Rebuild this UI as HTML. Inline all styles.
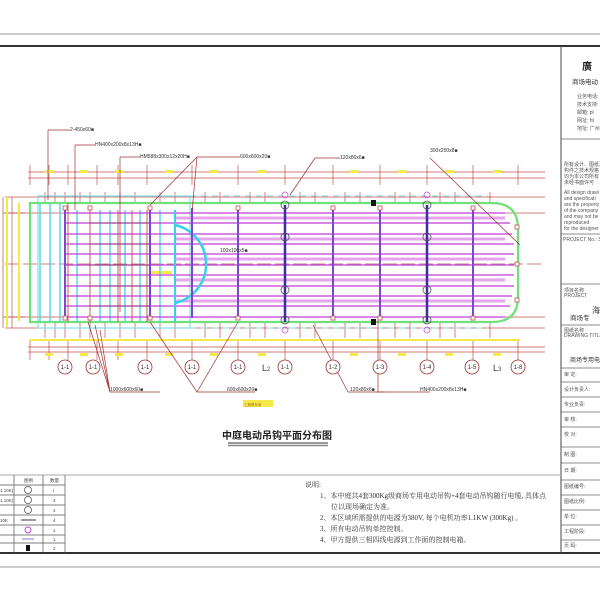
<!DOCTYPE html>
<html><head><meta charset="utf-8"><style>
html,body{margin:0;padding:0;background:#fff;}
svg{display:block;font-family:"Liberation Sans","Noto Sans CJK SC",sans-serif;}
</style></head><body>
<svg width="600" height="600" viewBox="0 0 600 600" xmlns="http://www.w3.org/2000/svg">
<rect width="600" height="600" fill="#fff"/>
<!-- frame -->
<line x1="0" y1="34" x2="600" y2="34" stroke="#999" stroke-width="1"/>
<line x1="0" y1="46" x2="600" y2="46" stroke="#333" stroke-width="2"/>
<line x1="0" y1="553" x2="600" y2="553" stroke="#333" stroke-width="2"/>
<line x1="0" y1="567" x2="600" y2="567" stroke="#999" stroke-width="1"/>
<line x1="561" y1="46" x2="561" y2="553" stroke="#444" stroke-width="1"/>
<line x1="0" y1="475" x2="561" y2="475" stroke="#aaa" stroke-width="1"/>

<!-- title block -->
<g stroke="#666" stroke-width="0.8">
<line x1="561" y1="139" x2="600" y2="139"/>
<line x1="561" y1="234" x2="600" y2="234"/>
<line x1="561" y1="284" x2="600" y2="284"/>
<line x1="561" y1="325" x2="600" y2="325"/>
<line x1="561" y1="368" x2="600" y2="368"/>
<line x1="561" y1="382" x2="600" y2="382"/>
<line x1="561" y1="397" x2="600" y2="397"/>
<line x1="561" y1="412" x2="600" y2="412"/>
<line x1="561" y1="427" x2="600" y2="427"/>
<line x1="561" y1="447" x2="600" y2="447"/>
<line x1="561" y1="463" x2="600" y2="463"/>
<line x1="561" y1="480" x2="600" y2="480"/>
<line x1="561" y1="495" x2="600" y2="495"/>
<line x1="561" y1="510" x2="600" y2="510"/>
<line x1="561" y1="525" x2="600" y2="525"/>
<line x1="561" y1="540" x2="600" y2="540"/>
</g>
<g font-size="5" fill="#555">
<text x="582" y="70" font-size="10" font-weight="bold" fill="#222">廣</text>
<text x="572" y="84" font-size="6.5" fill="#333">商场电动</text>
<text x="577" y="98">业务电话:</text><text x="577" y="106">技术支持:</text><text x="577" y="114">邮箱: pl</text><text x="577" y="122">网址: ht</text><text x="577" y="130">地址: 广州</text>
<text x="564" y="166">所有设计、图纸及</text><text x="564" y="172">构件之技术规格</text><text x="564" y="178">均为本公司所有</text><text x="564" y="184">未经书面许可</text>
<text x="564" y="194">All design drawi</text><text x="564" y="200">and specificati</text><text x="564" y="206">are the property</text><text x="564" y="212">of the company</text><text x="564" y="218">and may not be</text><text x="564" y="224">reproduced</text><text x="564" y="230">for the designer</text>
<text x="563" y="241">PROJECT No.: Sun</text>
<text x="564" y="292">项目名称</text><text x="564" y="297">PROJECT</text>
<text x="592" y="313" font-size="8" fill="#333">海</text>
<text x="570" y="320" font-size="6.5" fill="#333">商场专</text>
<text x="564" y="332">图纸名称</text><text x="564" y="337">DRAWING TITLE</text>
<text x="570" y="362" font-size="6" fill="#333">商场专用电</text>
<text x="564" y="376">审 定:</text><text x="564" y="391">设计负责人:</text><text x="564" y="406">专业负责:</text><text x="564" y="421">审 核:</text><text x="564" y="436">校 对:</text><text x="564" y="456">制 图:</text><text x="564" y="472">日 期:</text><text x="564" y="488">图纸编号:</text><text x="564" y="503">图纸比例:</text><text x="564" y="518">单 位:</text><text x="564" y="533">工程阶段:</text><text x="564" y="547">页 码:</text>
</g>

<!-- dimension lines red -->
<g stroke="#c0504d" stroke-width="0.7" fill="none">
<line x1="28" y1="172" x2="545" y2="172"/>
<line x1="28" y1="178" x2="545" y2="178"/>
<line x1="5" y1="197" x2="545" y2="197"/>
<line x1="5" y1="213" x2="545" y2="213"/>
<line x1="5" y1="264" x2="545" y2="264" stroke-dasharray="14 4"/>
<line x1="5" y1="317" x2="545" y2="317"/>
<line x1="5" y1="328" x2="545" y2="328"/>
<line x1="28" y1="347" x2="545" y2="347"/>
<line x1="28" y1="352" x2="545" y2="352"/>
<!-- vertical ticks top/bottom -->
<path d="M30 165V185M49 165V185M68 165V185M97 165V185M118 165V185M147 165V185M192 165V185M238 165V185M285 165V185M333 165V185M380 165V185M427 165V185M473 165V185M518 165V185"/>
<path d="M30 340V360M49 340V360M68 340V360M97 340V360M118 340V360M147 340V360M192 340V360M238 340V360M285 340V360M333 340V360M380 340V360M427 340V360M473 340V360M518 340V360"/>
<path d="M45 192V202M55 192V202M65 192V202M80 192V202M90 192V202M105 192V202M120 192V202M135 192V202M160 192V202M175 192V202M205 192V202M220 192V202M250 192V202M265 192V202M300 192V202M315 192V202M345 192V202M360 192V202M395 192V202M410 192V202M440 192V202M455 192V202M490 192V202"/>
<path d="M45 323V338M55 323V338M65 323V338M80 323V338M90 323V338M105 323V338M120 323V338M135 323V338M160 323V338M175 323V338M205 323V338M220 323V338M250 323V338M265 323V338M300 323V338M315 323V338M345 323V338M360 323V338M395 323V338M410 323V338M440 323V338M455 323V338M490 323V338"/>
<!-- left side dims -->
<path d="M3 197V328M12 197V328M3 213H25M3 317H25"/>
</g>
<!-- yellow dim marks -->
<g fill="#f5e94a">
<rect x="45" y="170" width="8" height="3"/><rect x="80" y="170" width="8" height="3"/><rect x="115" y="170" width="8" height="3"/><rect x="165" y="170" width="8" height="3"/><rect x="210" y="170" width="8" height="3"/><rect x="258" y="170" width="8" height="3"/><rect x="350" y="170" width="8" height="3"/><rect x="398" y="170" width="8" height="3"/><rect x="445" y="170" width="8" height="3"/><rect x="493" y="170" width="8" height="3"/>
<rect x="30" y="339" width="490" height="2"/>
<rect x="45" y="353" width="8" height="3"/><rect x="80" y="353" width="8" height="3"/><rect x="115" y="353" width="8" height="3"/><rect x="165" y="353" width="8" height="3"/><rect x="210" y="353" width="8" height="3"/><rect x="258" y="353" width="8" height="3"/><rect x="350" y="353" width="8" height="3"/><rect x="398" y="353" width="8" height="3"/><rect x="445" y="353" width="8" height="3"/><rect x="493" y="353" width="8" height="3"/>
<rect x="6" y="197" width="2" height="130"/><rect x="18" y="203" width="2" height="118"/>
<rect x="150" y="271" width="22" height="3"/>
<rect x="243" y="400" width="30" height="7"/>
</g>

<!-- cyan dashed outer -->
<rect x="38" y="196" width="152" height="132" fill="none" stroke="#7fdfe8" stroke-width="1.2"/>
<path d="M190 196H488M190 328H488" stroke="#7fdfe8" stroke-width="1" stroke-dasharray="6 5"/>
<!-- green rounded -->
<path d="M30 203H492Q518 203 518 229V297Q518 322 492 322H30Z" fill="none" stroke="#6fe07a" stroke-width="2.2"/>
<!-- cyan verticals left -->
<g stroke="#4fd6e6" stroke-width="1.4">
<path d="M40 203V322M50 203V322M60 203V322M77 210V322M100 210V322M110 210V322M125 210V322M140 210V322M160 210V322M175 210V322"/>
</g>
<g stroke="#c0504d" stroke-width="0.9">
<path d="M68 203V322M90 210V322M118 210V322M132 210V322M147 210V322"/>
</g>
<!-- horizontal magenta/purple -->
<g stroke="#e6a3ee" stroke-width="3">
<path d="M175 218H505M175 239H505M175 259H505M175 280H505M175 301H505"/>
</g>
<g stroke="#c03cd6" stroke-width="1.2">
<path d="M65 213H505M65 223H510M65 234H512M65 244H514M65 254H514M65 265H514M65 275H514M65 286H514M65 296H512M65 306H510M65 317H505"/>
</g>
<g stroke="#8a3a6a" stroke-width="0.8">
<path d="M90 223H150M90 244H150M90 265H150M90 286H150M90 306H150"/>
</g>
<!-- cyan semicircle -->
<path d="M175 225A40 40 0 0 1 175 303" fill="none" stroke="#39d0e8" stroke-width="2.5"/>
<line x1="175" y1="210" x2="175" y2="322" stroke="#39d0e8" stroke-width="2"/>
<!-- purple verticals -->
<g stroke="#7b49d1" stroke-width="2">
<path d="M65 208V318M150 208V318M192 208V318M238 208V318M333 208V318M380 208V318M473 208V318"/>
</g>
<g stroke="#3b2fa0" stroke-width="2.5">
<path d="M285 205V322M427 205V322"/>
</g>
<!-- red squares at beam ends -->
<g fill="#fff" stroke="#c0504d" stroke-width="0.8">
<rect x="63" y="206" width="4" height="4"/><rect x="88" y="206" width="4" height="4"/><rect x="148" y="206" width="4" height="4"/><rect x="236" y="206" width="4" height="4"/><rect x="331" y="206" width="4" height="4"/><rect x="378" y="206" width="4" height="4"/><rect x="471" y="206" width="4" height="4"/>
<rect x="63" y="316" width="4" height="4"/><rect x="88" y="316" width="4" height="4"/><rect x="148" y="316" width="4" height="4"/><rect x="236" y="316" width="4" height="4"/><rect x="331" y="316" width="4" height="4"/><rect x="378" y="316" width="4" height="4"/><rect x="471" y="316" width="4" height="4"/>
<rect x="515" y="225" width="4" height="4"/><rect x="515" y="262" width="4" height="4"/><rect x="515" y="298" width="4" height="4"/>
</g>
<!-- hook symbols -->
<g fill="none" stroke="#555" stroke-width="0.8">
<circle cx="285" cy="205" r="4"/><circle cx="285" cy="237" r="4"/><circle cx="285" cy="290" r="4"/><circle cx="285" cy="320" r="4"/>
<circle cx="427" cy="205" r="4"/><circle cx="427" cy="237" r="4"/><circle cx="427" cy="290" r="4"/><circle cx="427" cy="320" r="4"/>
</g>
<g fill="none" stroke="#d04fe0" stroke-width="0.8">
<circle cx="285" cy="195" r="3"/><circle cx="285" cy="330" r="3"/><circle cx="427" cy="195" r="3"/><circle cx="427" cy="330" r="3"/>
</g>
<rect x="371" y="200" width="5" height="6" fill="#111"/><rect x="371" y="319" width="5" height="6" fill="#111"/>

<!-- leader lines -->
<g stroke="#a03030" stroke-width="0.7" fill="none">
<path d="M48 130H70M48 130V200"/>
<path d="M75 145H95M75 145V210"/>
<path d="M120 157H140M120 157V312"/>
<path d="M197 157H240M197 157L150 205M197 157L192 212"/>
<path d="M315 158H340M315 158L290 195"/>
<path d="M430 158L520 245"/>
<path d="M88 322L110 392H160M95 325L110 392M100 330L110 392"/>
<path d="M150 322L197 392H255M238 322L197 392"/>
<path d="M313 325L348 392H385"/>
<path d="M378 320V392H430"/>
</g>
<g font-size="5" fill="#333">
<text x="70" y="131">2-450x60■</text>
<text x="95" y="146">HN400x200x8x13H■</text>
<text x="140" y="158">HM588x300x12x20H■</text>
<text x="240" y="158">600x600x20■</text>
<text x="340" y="159">120x80x6■</text>
<text x="430" y="152">300x200x8■</text>
<text x="220" y="252">100x100x5■</text>
<text x="110" y="391">1000x600x60■</text>
<text x="227" y="391">600x600x20■</text>
<text x="350" y="391">120x80x6■</text>
<text x="420" y="391">HN400x200x8x13H■</text>
<text x="244" y="406" font-size="3.5" fill="#a07020">工程联系单</text>
</g>
<!-- axis circles -->
<g fill="#fff" stroke="#a03030" stroke-width="0.8">
<circle cx="65" cy="367" r="7"/><circle cx="93" cy="367" r="7"/><circle cx="145" cy="367" r="7"/><circle cx="192" cy="367" r="7"/><circle cx="238" cy="367" r="7"/><circle cx="285" cy="367" r="7"/><circle cx="333" cy="367" r="7"/><circle cx="380" cy="367" r="7"/><circle cx="427" cy="367" r="7"/><circle cx="472" cy="367" r="7"/><circle cx="518" cy="367" r="7"/>
</g>
<g font-size="6" fill="#333" text-anchor="middle">
<text x="65" y="369">1-1</text><text x="93" y="369">1-1</text><text x="145" y="369">1-1</text><text x="192" y="369">1-1</text><text x="238" y="369">1-1</text><text x="285" y="369">1-1</text><text x="333" y="369">1-2</text><text x="380" y="369">1-3</text><text x="427" y="369">1-4</text><text x="472" y="369">1-5</text><text x="518" y="369">1-8</text>
</g>
<g font-size="9" fill="#444"><text x="262" y="371">L<tspan font-size="6">2</tspan></text><text x="493" y="371">L<tspan font-size="6">3</tspan></text></g>

<!-- drawing title -->
<text x="277" y="439" font-size="10" font-weight="bold" text-anchor="middle" fill="#222">中庭电动吊钩平面分布图</text>
<line x1="228" y1="443" x2="328" y2="443" stroke="#333" stroke-width="1"/>
<line x1="228" y1="445.5" x2="328" y2="445.5" stroke="#888" stroke-width="1.5"/>

<!-- legend table -->
<g stroke="#555" stroke-width="0.7">
<path d="M14 475V553M43 475V553M65 475V553"/>
<path d="M0 485H65M0 495H65M0 505H65M0 515H65M0 525H65M0 535H65M0 543H65"/>
</g>
<g font-size="4.5" fill="#444">
<text x="24" y="482">图例</text><text x="50" y="482">数量</text>
<text x="0" y="492">1.10K)</text><text x="0" y="502">1.10K)</text><text x="0" y="522">10K</text>
<text x="53" y="492">/</text><text x="53" y="502">4</text><text x="53" y="512">4</text><text x="53" y="522">4</text><text x="53" y="532">1</text><text x="53" y="541">1</text><text x="53" y="550">2</text>
</g>
<g fill="none" stroke="#444" stroke-width="0.7">
<circle cx="28" cy="490" r="3.5"/><circle cx="28" cy="500" r="3.5"/><circle cx="28" cy="510" r="3.5"/>
</g>
<line x1="21" y1="520" x2="36" y2="520" stroke="#777" stroke-width="1.5"/>
<circle cx="28" cy="530" r="3" fill="none" stroke="#c03cd6" stroke-width="0.9"/>
<line x1="22" y1="539" x2="34" y2="539" stroke="#8a7ad0" stroke-width="1"/>
<rect x="26" y="545" width="4" height="6" fill="#111"/>

<!-- notes -->
<g font-family="Liberation Serif,'Noto Serif CJK SC',serif" font-size="7" fill="#333">
<text x="305" y="487">说明:</text>
<text x="320" y="498">1、本中庭共4套300Kg级商场专用电动吊钩+4套电动吊钩随行电缆, 具体点</text>
<text x="331" y="509">位以现场确定为准。</text>
<text x="320" y="520">2、本区域所需提供的电源为380V, 每个电机功率1.1KW (300Kg) 。</text>
<text x="320" y="531">3、所有电动吊钩单控控制。</text>
<text x="320" y="542">4、甲方提供三相四线电源到工作面的控制电箱。</text>
</g>
</svg>
</body></html>
